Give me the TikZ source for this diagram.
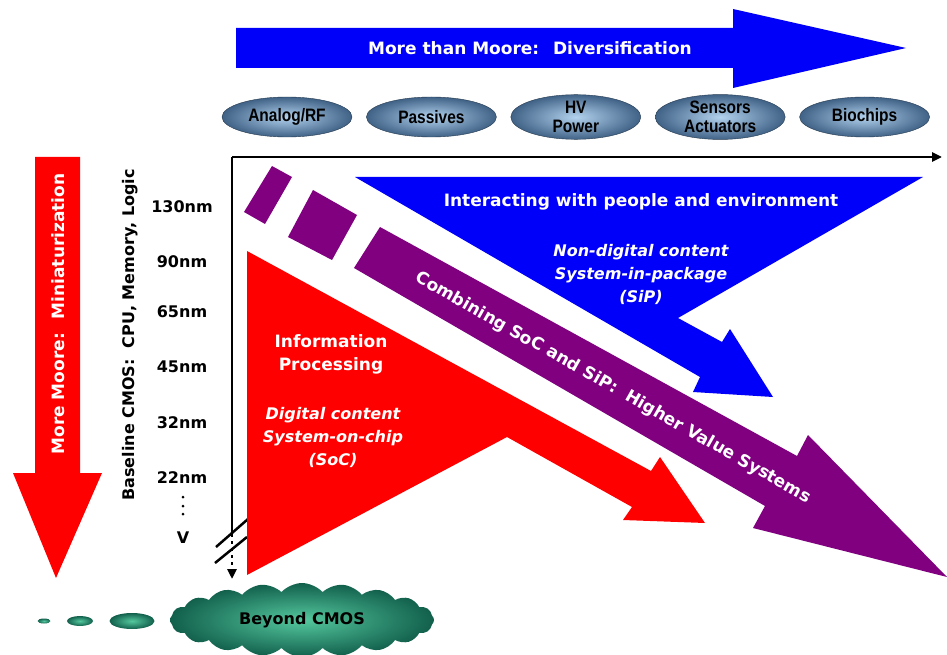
\documentclass[tikz,border=0pt]{standalone}
\usepackage{fontspec}
\setmainfont{DejaVu Sans}
\newfontfamily\pillfont[FakeStretch=0.86]{Liberation Sans}
\usetikzlibrary{positioning,shapes.geometric,shapes.symbols,arrows.meta}
\definecolor{moreblue}{RGB}{0,0,250}
\definecolor{morered}{RGB}{255,0,0}
\definecolor{combpurple}{RGB}{128,0,128}
\definecolor{pillout}{RGB}{64,98,134}
\definecolor{pillin}{RGB}{178,210,238}
\definecolor{cloudout}{RGB}{18,96,76}
\definecolor{cloudin}{RGB}{84,200,158}

\begin{document}
\begin{tikzpicture}[x=1pt, y=-1pt, node distance=14pt]
% Definition of styles:
\tikzset{%
  pill/.style   = {draw=pillout!60!black, thin, ellipse, minimum width=130pt, minimum height=40pt, inner sep=0pt,
                   inner color=pillin, outer color=pillout, align=center, font=\pillfont\bfseries\fontsize{18}{19}\selectfont}, % technology bubble
  wtext/.style  = {text=white, align=center, font=\bfseries\fontsize{17}{23}\selectfont},
  witext/.style = {text=white, align=center, font=\bfseries\itshape\fontsize{16}{23}\selectfont},
  nm/.style     = {font=\bfseries\fontsize{16}{16}\selectfont},
  blob/.style   = {ellipse, inner sep=0pt, inner color=cloudin, outer color=cloudout},
  axis/.style   = {line width=2.8pt, -{Triangle[length=10pt,width=9pt]}}
}
\useasboundingbox (0,0) rectangle (947,655);
\fill[white] (0,0) rectangle (947,655);

% top arrow and bubbles
\fill[moreblue] (236,28) -- (733,28) -- (733,9) -- (906,48) -- (733,88) -- (733,68) -- (236,68) -- cycle;
\node[wtext] (diversify) at (530,48) {More than Moore:~ Diversification};
\draw
	node [pill] (analog) at (287,117) {Analog/RF}
	node [pill, right = of analog] (passive) {Passives}
	node [pill, right = of passive] (hvpower) {HV\\Power}
	node [pill, right = of hvpower] (sensor) {Sensors\\Actuators}
	node [pill, right = of sensor] (biochip) {Biochips};

% left arrow and scale
\fill[morered] (35,157) -- (80,157) -- (80,473) -- (102,473) -- (56,578) -- (13,473) -- (35,473) -- cycle;
\node[wtext, rotate=90] (miniature) at (58,314) {More Moore:~ Miniaturization};
\node[nm, rotate=90] (baseline) at (130,335) {Baseline CMOS:~ CPU, Memory, Logic};
\foreach \n/\y in {130/207, 90/262, 65/312, 45/367, 32/423, 22/478}
	\node[nm] (nm\n) at (182,\y) {\n nm};
\foreach \y in {497,506,514}
	\fill (183,\y) circle (1.5);
\node[nm] (vee) at (183,538) {V};

% axes
\coordinate (O) at (232,157);
\coordinate (xend) at (942,157);
\coordinate (ybrk) at (232,534);
\coordinate (yend) at (232,579);
\draw[axis] (O) -- (xend);
\draw[line width=2.8pt] (O) -- (ybrk);
\draw[axis, dash pattern=on 3pt off 4pt] (ybrk) -- (yend);
\draw[line width=2.5pt] (216,547) -- (248,519);
\draw[line width=2.5pt] (215,563) -- (247,537);

% the three application arrows
\fill[moreblue] (355,177) -- (923,177) -- (678,318) -- (722,342) -- (730,329) -- (773,397) -- (693,392) -- (700,377) -- cycle;
\fill[combpurple] (272,166) -- (292,177) -- (265,224) -- (244,212) -- cycle;
\fill[combpurple] (313,190) -- (357,215) -- (332,260) -- (288,237) -- cycle;
\fill[combpurple] (380,227) -- (797,456) -- (808,435) -- (947,577) -- (753,528) -- (765,506) -- (354,268) -- cycle;
\fill[morered] (247,251) -- (651,471) -- (660,457) -- (705,523) -- (623,520) -- (632,507) -- (507,437) -- (247,575) -- cycle;

\node[wtext] (interact) at (641,202) {Interacting with people and environment};
\node[witext] (nondigital) at (641,274) {Non-digital content\\System-in-package\\(SiP)};
\node[wtext] (infoproc) at (331,354) {Information\\Processing};
\node[witext] (digital) at (333,437) {Digital content\\System-on-chip\\(SoC)};
\node[wtext, rotate=-29.5] (combine) at (613,388) {Combining SoC and SiP:~ Higher Value Systems};

% beyond CMOS
\node[cloud, cloud puffs=20, cloud puff arc=95, aspect=3.7, minimum width=264pt, minimum height=74pt, inner color=cloudin, outer color=cloudout,
	font=\bfseries\fontsize{16}{16}\selectfont] (beyond) at (302,620) {Beyond CMOS};
\node[blob, minimum width=13pt, minimum height=5pt] (bub1) at (44,621) {};
\node[blob, minimum width=26pt, minimum height=10pt] (bub2) at (80,621) {};
\node[blob, minimum width=45pt, minimum height=16pt] (bub3) at (132,621) {};
\end{tikzpicture}
\end{document}
